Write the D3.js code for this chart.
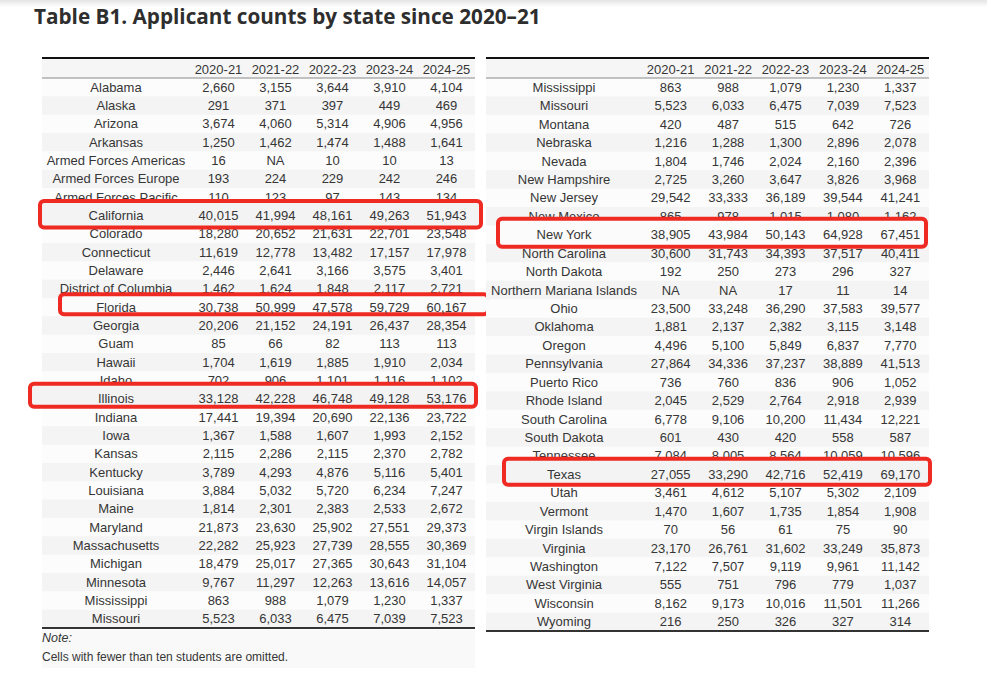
<!DOCTYPE html>
<html>
<head>
<meta charset="utf-8">
<script src="https://cdn.jsdelivr.net/npm/d3@7"></script>
<style>
  html, body { margin: 0; padding: 0; background: #fff; }
  svg { display: block; }
</style>
</head>
<body>
<svg id="chart" width="987" height="678"></svg>
<script>
// ---------- DATA ----------
const title = "Table B1. Applicant counts by state since 2020\u201321";
const years = ["2020-21", "2021-22", "2022-23", "2023-24", "2024-25"];

const statesLeft = ["Alabama","Alaska","Arizona","Arkansas","Armed Forces Americas","Armed Forces Europe",
  "Armed Forces Pacific","California","Colorado","Connecticut","Delaware","District of Columbia","Florida",
  "Georgia","Guam","Hawaii","Idaho","Illinois","Indiana","Iowa","Kansas","Kentucky","Louisiana","Maine",
  "Maryland","Massachusetts","Michigan","Minnesota","Mississippi","Missouri"];
const countsLeft = [
  [2660,3155,3644,3910,4104],
  [291,371,397,449,469],
  [3674,4060,5314,4906,4956],
  [1250,1462,1474,1488,1641],
  [16,null,10,10,13],
  [193,224,229,242,246],
  [110,123,97,143,134],
  [40015,41994,48161,49263,51943],
  [18280,20652,21631,22701,23548],
  [11619,12778,13482,17157,17978],
  [2446,2641,3166,3575,3401],
  [1462,1624,1848,2117,2721],
  [30738,50999,47578,59729,60167],
  [20206,21152,24191,26437,28354],
  [85,66,82,113,113],
  [1704,1619,1885,1910,2034],
  [702,906,1101,1116,1102],
  [33128,42228,46748,49128,53176],
  [17441,19394,20690,22136,23722],
  [1367,1588,1607,1993,2152],
  [2115,2286,2115,2370,2782],
  [3789,4293,4876,5116,5401],
  [3884,5032,5720,6234,7247],
  [1814,2301,2383,2533,2672],
  [21873,23630,25902,27551,29373],
  [22282,25923,27739,28555,30369],
  [18479,25017,27365,30643,31104],
  [9767,11297,12263,13616,14057],
  [863,988,1079,1230,1337],
  [5523,6033,6475,7039,7523]
];

const statesRight = ["Mississippi","Missouri","Montana","Nebraska","Nevada","New Hampshire","New Jersey",
  "New Mexico","New York","North Carolina","North Dakota","Northern Mariana Islands","Ohio","Oklahoma",
  "Oregon","Pennsylvania","Puerto Rico","Rhode Island","South Carolina","South Dakota","Tennessee","Texas",
  "Utah","Vermont","Virgin Islands","Virginia","Washington","West Virginia","Wisconsin","Wyoming"];
const countsRight = [
  [863,988,1079,1230,1337],
  [5523,6033,6475,7039,7523],
  [420,487,515,642,726],
  [1216,1288,1300,2896,2078],
  [1804,1746,2024,2160,2396],
  [2725,3260,3647,3826,3968],
  [29542,33333,36189,39544,41241],
  [865,978,1015,1080,1162],
  [38905,43984,50143,64928,67451],
  [30600,31743,34393,37517,40411],
  [192,250,273,296,327],
  [null,null,17,11,14],
  [23500,33248,36290,37583,39577],
  [1881,2137,2382,3115,3148],
  [4496,5100,5849,6837,7770],
  [27864,34336,37237,38889,41513],
  [736,760,836,906,1052],
  [2045,2529,2764,2918,2939],
  [6778,9106,10200,11434,12221],
  [601,430,420,558,587],
  [7084,8005,8564,10059,10596],
  [27055,33290,42716,52419,69170],
  [3461,4612,5107,5302,2109],
  [1470,1607,1735,1854,1908],
  [70,56,61,75,90],
  [23170,26761,31602,33249,35873],
  [7122,7507,9119,9961,11142],
  [555,751,796,779,1037],
  [8162,9173,10016,11501,11266],
  [216,250,326,327,314]
];

const highlighted = ["California","Florida","Illinois","New York","Texas"];
const noteLabel = "Note:";
const noteText = "Cells with fewer than ten students are omitted.";

// ---------- STYLE / LAYOUT ----------
const FONT = "'Liberation Sans', Arial, sans-serif";
const TEXT = "#363636";
const RED = "#ee2a22";
// per-highlight box insets (annotation styling, relative to table edges / row centre)
const boxStyle = {
  "California": {l:-4, r:8,  t:-16.5, b:14},
  "Florida":    {l:16, r:15, t:-15,   b:9},
  "Illinois":   {l:-14,r:3,  t:-17,   b:10},
  "New York":   {l:10, r:-1, t:-18,   b:14},
  "Texas":      {l:16, r:3,  t:-17.5, b:12.5}
};

const tables = [
  {states: statesLeft,  counts: countsLeft,  x0: 42,  x1: 475, stateW: 148, y0: 58, headY1: 78, yEnd: 628},
  {states: statesRight, counts: countsRight, x0: 486, x1: 929, stateW: 156, y0: 58, headY1: 78, yEnd: 631}
];

const svg = d3.select("#chart");
const fmt = d3.format(",");

// top shadow band
const defs = svg.append("defs");
const g0 = defs.append("linearGradient").attr("id","topShade").attr("x1",0).attr("x2",0).attr("y1",0).attr("y2",1);
g0.append("stop").attr("offset",0).attr("stop-color","#e4e4e4");
g0.append("stop").attr("offset",1).attr("stop-color","#ffffff");
svg.append("rect").attr("x",0).attr("y",0).attr("width",987).attr("height",7).attr("fill","url(#topShade)");

// title (size fitted to the reference width)
const titleEl = svg.append("text")
  .attr("x", 34).attr("y", 24)
  .attr("font-family", "'Open Sans', Roboto, sans-serif")
  .attr("font-weight", 700)
  .attr("font-size", 20)
  .attr("fill", "#2e2e2e")
  .text(title);
const tw = titleEl.node().getComputedTextLength();
if (tw > 0) titleEl.attr("font-size", 20 * 507 / tw);

tables.forEach((tb, ti) => {
  const g = svg.append("g");
  const stateEnd = tb.x0 + tb.stateW;
  const xCol = d3.scaleBand().domain(years).range([stateEnd, tb.x1]);
  const xState = (tb.x0 + stateEnd) / 2;
  const y = d3.scaleBand().domain(tb.states).range([tb.headY1, tb.yEnd]);

  g.append("rect").attr("x", tb.x0).attr("y", tb.y0).attr("width", tb.x1 - tb.x0)
    .attr("height", tb.headY1 - tb.y0).attr("fill", "#f6f6f6");
  g.selectAll("rect.row").data(tb.states).join("rect")
    .attr("class","row")
    .attr("x", tb.x0).attr("y", d => y(d))
    .attr("width", tb.x1 - tb.x0).attr("height", y.bandwidth() + 0.5)
    .attr("fill", (d,i) => i % 2 ? "#f4f4f4" : "#fcfcfc");

  g.selectAll("text.head").data(years).join("text")
    .attr("class","head")
    .attr("x", d => xCol(d) + xCol.bandwidth()/2)
    .attr("y", (tb.y0 + tb.headY1)/2 + 1)
    .attr("dy", "0.35em")
    .attr("text-anchor","middle")
    .attr("font-family", FONT).attr("font-size", 13).attr("fill", TEXT)
    .text(d => d);

  g.append("line").attr("x1", tb.x0).attr("x2", tb.x1).attr("y1", tb.y0).attr("y2", tb.y0)
    .attr("stroke", "#111").attr("stroke-width", 2);
  g.append("line").attr("x1", tb.x0).attr("x2", tb.x1).attr("y1", tb.headY1).attr("y2", tb.headY1)
    .attr("stroke", "#888").attr("stroke-width", 1);

  function drawRow(sel) {
    sel.each(function(d) {
      const i = tb.states.indexOf(d);
      const cy = y(d) + y.bandwidth()/2;
      const rg = d3.select(this);
      rg.append("text")
        .attr("x", xState).attr("y", cy).attr("dy","0.35em")
        .attr("text-anchor","middle")
        .attr("font-family", FONT).attr("font-size", 13).attr("fill", TEXT)
        .text(d);
      rg.selectAll("text.v").data(tb.counts[i]).join("text")
        .attr("class","v")
        .attr("x", (v,j) => xCol(years[j]) + xCol.bandwidth()/2)
        .attr("y", cy).attr("dy","0.35em")
        .attr("text-anchor","middle")
        .attr("font-family", FONT).attr("font-size", 13).attr("fill", TEXT)
        .text(v => v == null ? "NA" : fmt(v));
    });
  }

  g.selectAll("g.r").data(tb.states.filter(s => !highlighted.includes(s))).join("g")
    .attr("class","r").call(drawRow);

  g.append("line").attr("x1", tb.x0).attr("x2", tb.x1).attr("y1", tb.yEnd).attr("y2", tb.yEnd)
    .attr("stroke", "#333").attr("stroke-width", 2);

  const hs = tb.states.filter(s => highlighted.includes(s));
  const hg = svg.append("g").selectAll("g.h").data(hs).join("g").attr("class","h");
  hg.append("rect")
    .attr("x", d => tb.x0 + boxStyle[d].l + 2)
    .attr("y", d => y(d) + y.bandwidth()/2 + boxStyle[d].t + 2)
    .attr("width", d => (tb.x1 + boxStyle[d].r) - (tb.x0 + boxStyle[d].l) - 4)
    .attr("height", d => boxStyle[d].b - boxStyle[d].t - 4)
    .attr("rx", 4)
    .attr("fill", d => tb.states.indexOf(d) % 2 ? "#f3f3f3" : "#fbfbfb")
    .attr("stroke", RED).attr("stroke-width", 4);
  hg.call(drawRow);
});

svg.append("rect").attr("x", 42).attr("y", 630).attr("width", 433).attr("height", 38).attr("fill", "#f9f9f9");
svg.append("text").attr("x", 42).attr("y", 642)
  .attr("font-family", FONT).attr("font-size", 12.5).attr("font-style","italic").attr("fill", TEXT)
  .text(noteLabel);
svg.append("text").attr("x", 42).attr("y", 661)
  .attr("font-family", FONT).attr("font-size", 12).attr("fill", TEXT)
  .text(noteText);
</script>
</body>
</html>
